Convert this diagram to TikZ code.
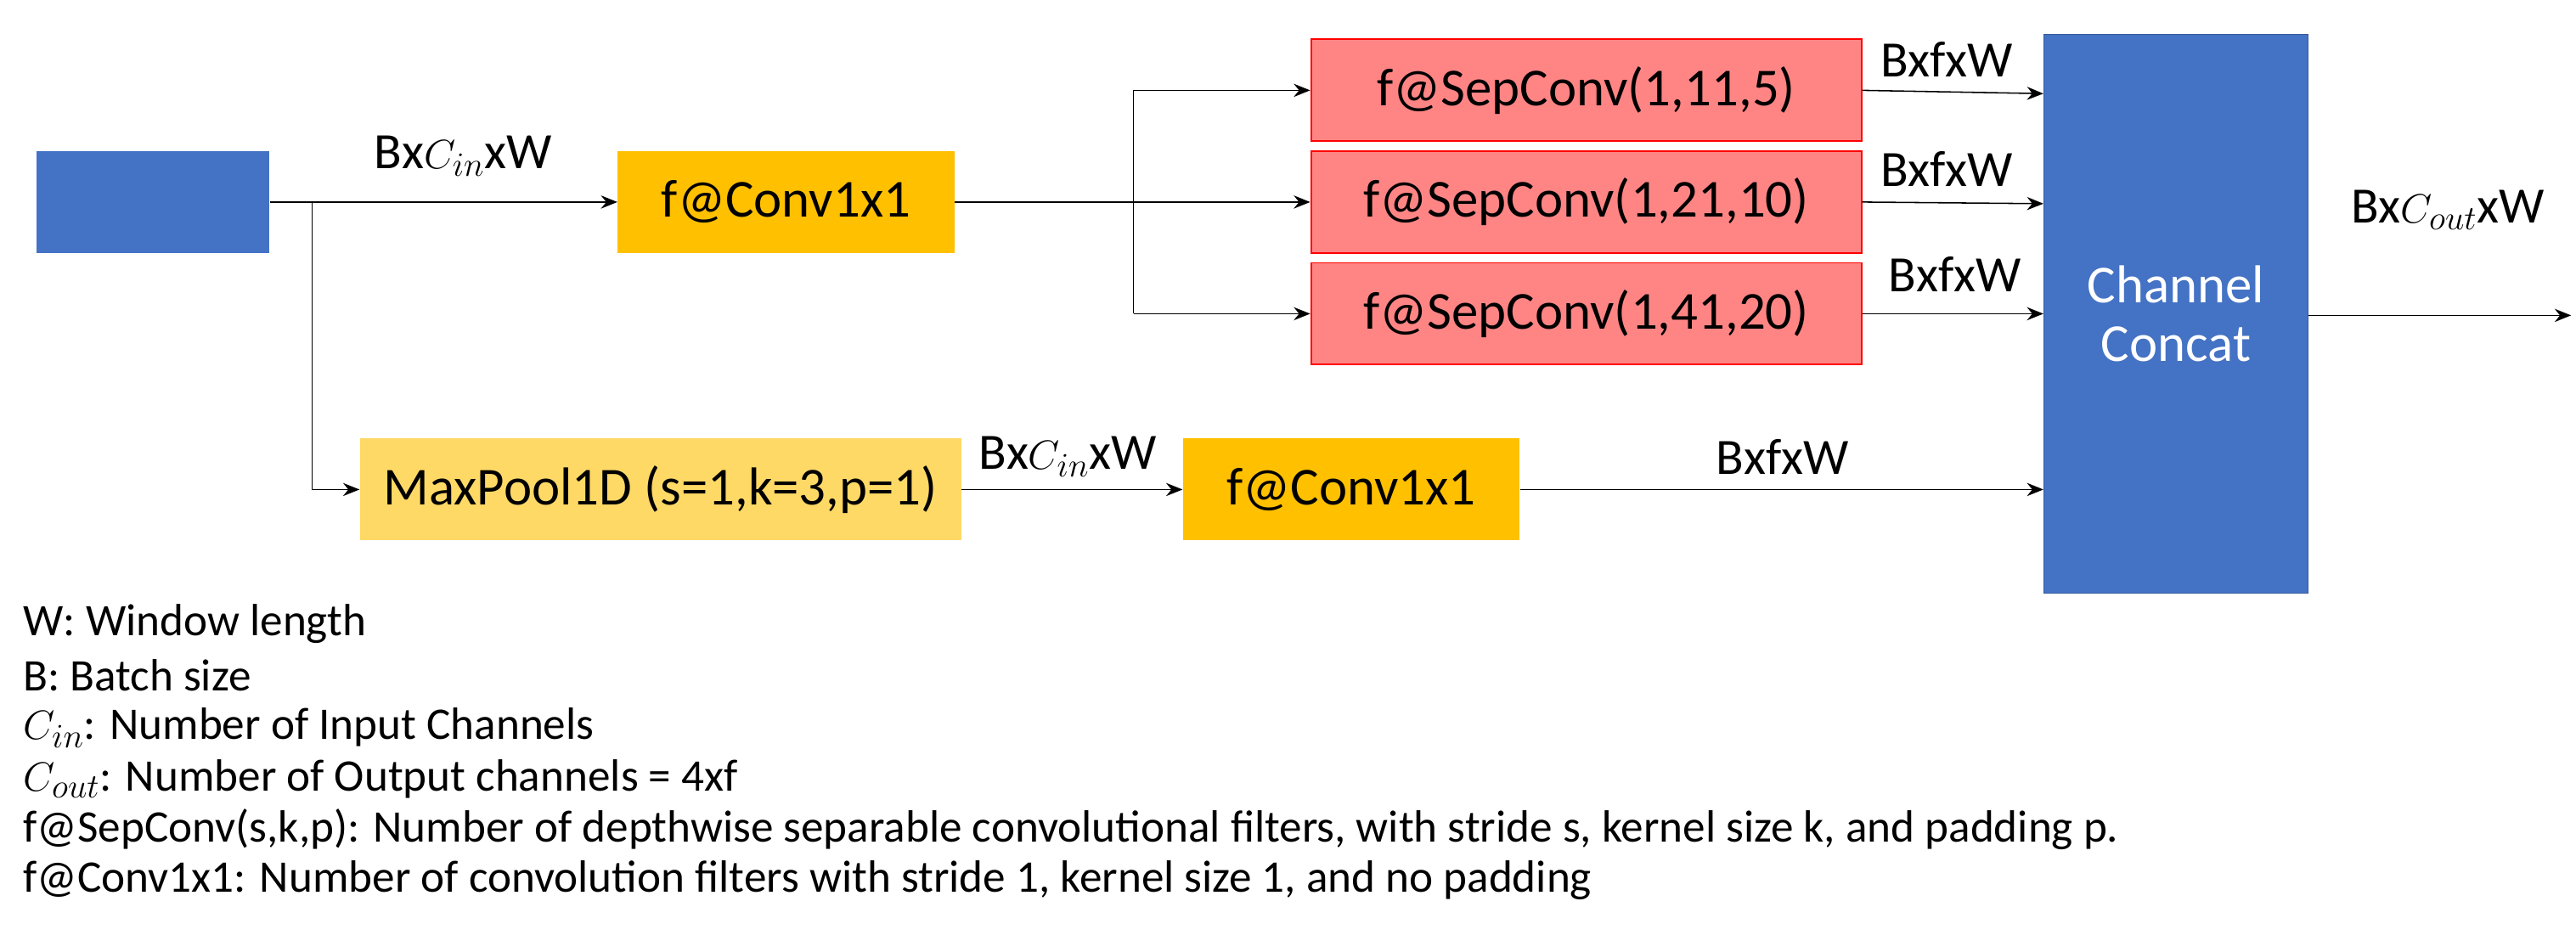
\documentclass[tikz,border=0pt]{standalone}
\usepackage{fontspec}
\setmainfont{Carlito}
\usetikzlibrary{arrows.meta}
\definecolor{cblue}{HTML}{4472C4}
\definecolor{corange}{HTML}{FFC000}
\definecolor{cyel}{HTML}{FFD966}
\definecolor{cred}{HTML}{FF8585}
\begin{document}
\begin{tikzpicture}[x=1pt,y=-1pt,
 box/.style={draw=none,minimum height=62pt,inner sep=0pt,font=\fontsize{32.5}{36}\selectfont},
 arr/.style={-{Stealth[length=10pt,width=8pt]},line width=0.8pt},
 ln/.style={line width=0.8pt},
 lab/.style={font=\fontsize{31}{34}\selectfont},
 leg/.style={font=\fontsize{27.5}{30}\selectfont,anchor=west,inner sep=0pt}]
\useasboundingbox (0,0) rectangle (1568,569);
\fill[white] (0,0) rectangle (1568,569);
\node[box,fill=cblue,minimum width=142pt] (in) at (93,123) {};
\node[box,fill=corange,minimum width=205pt] (c1) at (478.5,123) {f@Conv1x1};
\node[box,fill=cred,draw=red,line width=1pt,minimum width=335pt] (s1) at (965.5,55) {f@SepConv(1,11,5)};
\node[box,fill=cred,draw=red,line width=1pt,minimum width=335pt] (s2) at (965.5,123) {f@SepConv(1,21,10)};
\node[box,fill=cred,draw=red,line width=1pt,minimum width=335pt] (s3) at (965.5,191) {f@SepConv(1,41,20)};
\node[box,fill=cblue,draw=cblue!80!black,minimum width=161pt,minimum height=340pt,text=white,align=center] (cc) at (1324.5,191) {Channel\\Concat};
\node[box,fill=cyel,minimum width=366pt] (mp) at (402,298) {MaxPool1D (s=1,k=3,p=1)};
\node[box,fill=corange,minimum width=205pt] (c2) at (822.5,298) {f@Conv1x1};
\coordinate (b1) at (190,123);
\coordinate (b2) at (690,123);
\coordinate (o) at (1565,192);
\draw[arr] (in.east) -- (c1.west);
\draw[ln] (b1) |- (mp.west);
\draw[arr] (b1 |- mp.west) -- (mp.west);
\draw[arr] (c1.east) -- (s2.west);
\draw[ln] (b2 |- s1.west) -- (b2 |- s3.west);
\draw[arr] (b2 |- s1.west) -- (s1.west);
\draw[arr] (b2 |- s3.west) -- (s3.west);
\draw[arr] (s1.east) -- (cc.west |- 0,57);
\draw[arr] (s2.east) -- (cc.west |- 0,124);
\draw[arr] (s3.east) -- (cc.west |- s3.east);
\draw[arr] (mp.east) -- (c2.west);
\draw[arr] (c2.east) -- (cc.west |- c2.east);
\draw[arr] (cc.east |- o) -- (o);
\node[lab] (l1) at (282,95) {Bx$C_{in}$xW};
\node[lab] (l2) at (650,278) {Bx$C_{in}$xW};
\node[lab] (l3) at (1185,36) {BxfxW};
\node[lab] (l4) at (1185,103) {BxfxW};
\node[lab] (l5) at (1190,167) {BxfxW};
\node[lab] (l6) at (1085,278) {BxfxW};
\node[lab] (l7) at (1490,128) {Bx$C_{out}$xW};
\node[leg] (g1) at (14,380) {W: Window length};
\node[leg] (g2) at (14,411) {B: Batch size};
\node[leg] (g3) at (14,443) {$C_{in}$: Number of Input Channels};
\node[leg] (g4) at (14,474) {$C_{out}$: Number of Output channels = 4xf};
\node[leg] (g5) at (14,505) {f@SepConv(s,k,p): Number of depthwise separable convolutional filters, with stride s, kernel size k, and padding p.};
\node[leg] (g6) at (14,536) {f@Conv1x1: Number of convolution filters with stride 1, kernel size 1, and no padding};
\end{tikzpicture}
\end{document}
